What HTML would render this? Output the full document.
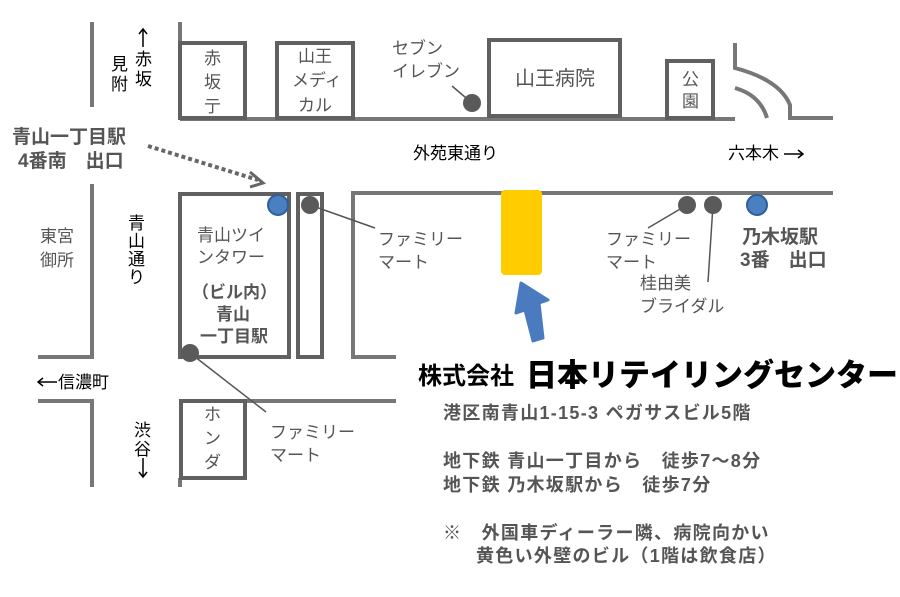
<!DOCTYPE html>
<html><head><meta charset="utf-8"><style>
html,body{margin:0;padding:0;background:#fff;}
svg{display:block;}
text{font-family:"Liberation Sans","Noto Sans CJK JP",sans-serif;}
.g{fill:#555;font-size:17px;}
.k{fill:#000;font-size:17px;}
.b{fill:#555;font-size:19px;font-weight:bold;}
.t{fill:#555;font-size:17px;font-weight:bold;}
.a{fill:#555;font-size:18px;font-weight:bold;letter-spacing:1.3px;}
</style></head><body>
<svg width="900" height="597" viewBox="0 0 900 597" xmlns="http://www.w3.org/2000/svg">
<g fill="none" stroke="#777" stroke-width="4">
 <line x1="92" y1="22" x2="92" y2="107"/>
 <polyline points="92,184 92,357 38,357"/>
 <polyline points="38,401 92,401 92,487"/>
 <line x1="180" y1="22" x2="180" y2="120"/>
 <line x1="180" y1="119" x2="735" y2="119"/>
 <path d="M735,43 V68 Q780,80 790,105 V118 H833"/>
 <path d="M735,88 Q760,95 767,118"/>
 <line x1="351" y1="193" x2="833" y2="193"/>
 <polyline points="353,193 353,357 396,357"/>
 <polyline points="180,401 396,401"/>
 <line x1="180" y1="478" x2="180" y2="487"/>
</g>
<g fill="#fff" stroke="#606060" stroke-width="4">
 <rect x="180" y="43" width="65" height="75"/>
 <rect x="277" y="43" width="76" height="75"/>
 <rect x="489" y="40" width="131" height="76"/>
 <rect x="667" y="61" width="46" height="57"/>
 <rect x="180" y="194" width="109" height="163"/>
 <rect x="298" y="194" width="24" height="163"/>
 <rect x="181" y="401" width="64" height="77"/>
</g>
<g stroke="#555" stroke-width="1.5">
 <line x1="472" y1="103" x2="452" y2="86"/>
 <line x1="310" y1="205" x2="375" y2="228"/>
 <line x1="687" y1="205" x2="648" y2="228"/>
 <line x1="713" y1="205" x2="708" y2="282"/>
 <line x1="190" y1="353" x2="266" y2="412"/>
</g>
<g fill="#5a5a5a">
 <circle cx="472" cy="103" r="9"/>
 <circle cx="310" cy="205" r="9"/>
 <circle cx="687" cy="205" r="9"/>
 <circle cx="713" cy="205" r="9"/>
 <circle cx="190" cy="353" r="9"/>
</g>
<g fill="#4a7fc0" stroke="#2f5e9a" stroke-width="2">
 <circle cx="278" cy="205" r="10"/>
 <circle cx="757" cy="205" r="10"/>
</g>
<rect x="501" y="190" width="41" height="85" rx="4" fill="#FFCC00"/>
<path d="M533,341 L525,310 L516,313 L521,283 L548,300 L539,303 L543,338 Z" fill="#4a7bbf" stroke="#4a7bbf" stroke-width="3" stroke-linejoin="round"/>
<line x1="148" y1="146" x2="258" y2="180" stroke="#666" stroke-width="4" stroke-dasharray="4,3"/>
<polyline points="250,172 263,183 250,187" fill="none" stroke="#666" stroke-width="3"/>

<g stroke="#000" stroke-width="1.5" fill="none">
 <line x1="143" y1="30" x2="143" y2="47"/><polyline points="139,34 143,29 147,34"/>
 <line x1="143" y1="458" x2="143" y2="476"/><polyline points="139,472 143,477 147,472"/>
 <line x1="784" y1="154" x2="802" y2="154"/><polyline points="798,150 803,154 798,158"/>
 <line x1="39" y1="382" x2="57" y2="382"/><polyline points="43,378 38,382 43,386"/>
</g>
<text class="k" x="135" y="65">赤</text><text class="k" x="135" y="85">坂</text>
<text class="k" x="111" y="70">見</text><text class="k" x="111" y="90">附</text>
<text class="g" x="204" y="64">赤</text><text class="g" x="204" y="88">坂</text><text class="g" x="204" y="112">亍</text>
<text class="g" x="298" y="62">山王</text><text class="g" x="292" y="86">メディ</text><text class="g" x="298" y="111">カル</text>
<text class="g" x="392" y="54">セブン</text><text class="g" x="392" y="77">イレブン</text>
<text x="515" y="85" style="fill:#555;font-size:20px">山王病院</text>
<text class="g" x="682" y="85">公</text><text class="g" x="682" y="107">園</text>
<text class="b" x="12" y="143">青山一丁目駅</text>
<text class="b" x="18" y="167">4番南　出口</text>
<text class="k" x="413" y="159">外苑東通り</text>
<text class="k" x="728" y="159">六本木</text>
<text class="g" x="40" y="242">東宮</text><text class="g" x="40" y="266">御所</text>
<text class="k" x="128" y="229">青</text><text class="k" x="128" y="247">山</text><text class="k" x="128" y="265">通</text><text class="k" x="128" y="283">り</text>
<text class="g" x="197" y="241">青山ツイ</text><text class="g" x="197" y="263">ンタワー</text>
<text class="t" x="192" y="298">（ビル内）</text>
<text class="t" x="216" y="320">青山</text>
<text class="t" x="200" y="342">一丁目駅</text>
<text class="g" x="378" y="245">ファミリー</text><text class="g" x="378" y="268">マート</text>
<text class="g" x="606" y="245">ファミリー</text><text class="g" x="606" y="268">マート</text>
<text class="g" x="640" y="289">桂由美</text><text class="g" x="640" y="312">ブライダル</text>
<text class="b" x="742" y="243">乃木坂駅</text>
<text class="b" x="740" y="266">3番　出口</text>
<text class="k" x="58" y="388">信濃町</text>
<text class="k" x="134" y="436">渋</text><text class="k" x="134" y="455">谷</text>
<text class="g" x="204" y="420">ホ</text><text class="g" x="204" y="444">ン</text><text class="g" x="204" y="468">ダ</text>
<text class="g" x="270" y="438">ファミリー</text><text class="g" x="270" y="461">マート</text>
<text x="418" y="384" style="font-size:24px;font-weight:bold;fill:#000">株式会社</text>
<text x="526" y="386" style="font-size:31px;font-weight:900;fill:#000">日本リテイリングセンター</text>
<text class="a" x="443" y="419">港区南青山1-15-3 ペガサスビル5階</text>
<text class="a" x="443" y="467">地下鉄 青山一丁目から　徒歩7～8分</text>
<text class="a" x="443" y="491">地下鉄 乃木坂駅から　徒歩7分</text>
<text class="a" x="443" y="539">※　外国車ディーラー隣、病院向かい</text>
<text class="a" x="476" y="562">黄色い外壁のビル（1階は飲食店）</text>
</svg>
</body></html>
